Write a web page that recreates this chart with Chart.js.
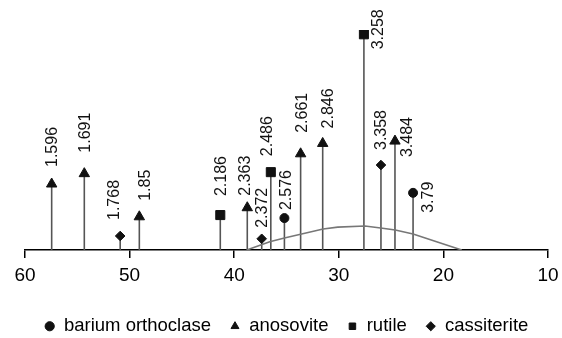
<!DOCTYPE html>
<html>
<head>
<meta charset="utf-8">
<script src="https://cdn.jsdelivr.net/npm/chart.js@4.4.0/dist/chart.umd.min.js"></script>
<style>
  html, body { margin: 0; padding: 0; background: #fff; overflow: hidden; }
  #wrap { position: relative; width: 562px; height: 338px; }
  #xrd { display: block; }
</style>
</head>
<body>
<div id="wrap"><canvas id="xrd"></canvas></div>
<script>
// 2-theta position, relative intensity and d-spacing label for each phase
const bariumX = [35.2, 22.9];
const bariumY = [14.8, 26.5];
const bariumD = ['2.576', '3.79'];

const anosoviteX = [57.45, 54.33, 49.07, 38.75, 33.65, 31.54, 24.63];
const anosoviteY = [30.6, 35.4, 15.4, 19.6, 44.6, 49.4, 50.5];
const anosoviteD = ['1.596', '1.691', '1.85', '2.363', '2.661', '2.846', '3.484'];

const rutileX = [41.33, 36.5, 27.6];
const rutileY = [16.2, 36.1, 100];
const rutileD = ['2.186', '2.486', '3.258'];

const cassiteriteX = [50.9, 37.37, 25.97];
const cassiteriteY = [6.5, 5.2, 39.4];
const cassiteriteD = ['1.768', '2.372', '3.358'];

// amorphous background hump
const humpX = [38.8, 36.6, 35.2, 31.5, 30.1, 27.5, 26, 24.6, 22.9, 18.25];
const humpY = [0, 3.8, 5.6, 9.7, 10.6, 11.1, 10.2, 9.3, 7.4, 0];

const xTicks = [60, 50, 40, 30, 20, 10];

const FONT = "'Liberation Sans', Arial, sans-serif";

// where each d label sits relative to its marker (px)
const labelShift = {
  '1.596': [1.3, -17], '1.691': [1.4, -21], '1.768': [-6, -16], '1.85': [6.4, -16],
  '2.186': [1.4, -19], '2.363': [-1.3, -12], '2.372': [1.3, -11], '2.486': [-3, -16],
  '2.576': [2.4, -8], '2.661': [2.3, -21], '2.846': [6.3, -15], '3.258': [14.7, 15],
  '3.358': [0.7, -15], '3.484': [13, 16], '3.79': [15.7, 20]
};

function pts(xs, ys) {
  return xs.map((v, i) => ({ x: v, y: ys[i] }));
}

function phase(label, xs, ys, ds, style, r) {
  return {
    type: 'scatter', label: label, data: pts(xs, ys), dLabels: ds,
    pointStyle: style, pointRadius: r, pointHoverRadius: r,
    backgroundColor: '#111', borderColor: '#111', borderWidth: 1
  };
}

// vertical sticks down to the baseline + rotated d labels
const sticks = {
  id: 'sticks',
  beforeDatasetsDraw(chart) {
    const { ctx, scales: { x, y } } = chart;
    const y0 = y.getPixelForValue(0);
    ctx.save();
    ctx.strokeStyle = '#555';
    ctx.lineWidth = 1.6;
    chart.data.datasets.forEach(ds => {
      if (!ds.dLabels) return;
      ds.data.forEach(p => {
        const px = x.getPixelForValue(p.x);
        ctx.beginPath();
        ctx.moveTo(px, y0);
        ctx.lineTo(px, y.getPixelForValue(p.y));
        ctx.stroke();
      });
    });
    ctx.restore();
  },
  afterDatasetsDraw(chart) {
    const { ctx, scales: { x, y } } = chart;
    ctx.save();
    ctx.fillStyle = '#111';
    ctx.font = '16px ' + FONT;
    ctx.textAlign = 'left';
    ctx.textBaseline = 'middle';
    chart.data.datasets.forEach(ds => {
      if (!ds.dLabels) return;
      ds.data.forEach((p, i) => {
        const txt = ds.dLabels[i];
        const sh = labelShift[txt] || [0, -14];
        ctx.save();
        ctx.translate(x.getPixelForValue(p.x) + sh[0], y.getPixelForValue(p.y) + sh[1]);
        ctx.rotate(-Math.PI / 2);
        ctx.fillText(txt, 0, 0);
        ctx.restore();
      });
    });
    ctx.restore();
  }
};

new Chart(document.getElementById('xrd'), {
  data: {
    datasets: [
      phase('barium orthoclase', bariumX, bariumY, bariumD, 'circle', 4.5),
      phase('anosovite', anosoviteX, anosoviteY, anosoviteD, 'triangle', 6),
      phase('rutile', rutileX, rutileY, rutileD, 'rect', 6.4),
      phase('cassiterite', cassiteriteX, cassiteriteY, cassiteriteD, 'rectRot', 4.8),
      {
        type: 'line', label: 'hump', data: pts(humpX, humpY),
        borderColor: '#777', borderWidth: 1.6, pointRadius: 0, tension: 0, fill: false
      }
    ]
  },
  options: {
    responsive: true,
    maintainAspectRatio: false,
    animation: false,
    layout: { padding: { left: 25, right: 14, top: 30, bottom: -7.5 } },
    scales: {
      x: {
        type: 'linear', min: 10, max: 60, reverse: true,
        afterBuildTicks: s => { s.ticks = xTicks.map(v => ({ value: v })); },
        afterFit: s => { s.height = 48; },
        grid: { drawOnChartArea: false, drawTicks: true, tickLength: 8, color: '#000', lineWidth: 1.5 },
        border: { display: true, color: '#000', width: 1.5 },
        ticks: { color: '#000', padding: 3, font: { size: 19, family: FONT, lineHeight: 1.58 } }
      },
      y: { display: false, min: 0, max: 102 }
    },
    plugins: {
      tooltip: { enabled: false },
      legend: {
        position: 'bottom',
        labels: {
          usePointStyle: true, boxWidth: 10, boxHeight: 6.5, padding: 19,
          color: '#000', font: { size: 18.5, family: FONT },
          filter: item => item.text !== 'hump'
        }
      }
    }
  },
  plugins: [sticks]
});
</script>
</body>
</html>
